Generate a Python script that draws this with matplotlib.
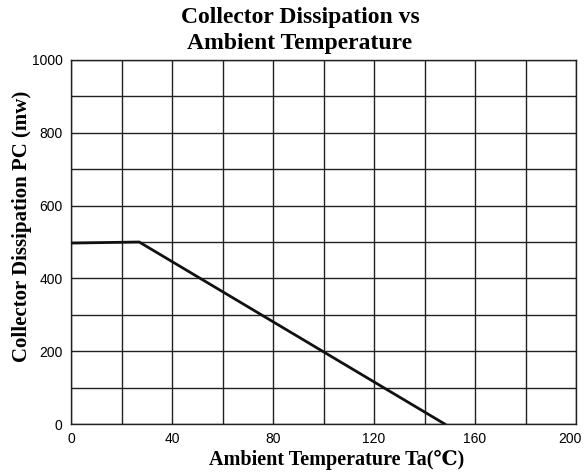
import numpy as np
import matplotlib
matplotlib.use("Agg")
import matplotlib.pyplot as plt
import matplotlib.transforms as mtransforms

# =============================================================================
# data
# =============================================================================
temp = [0, 27, 148]          # ambient temperature Ta (C)
pc = [497, 500, 0]           # collector dissipation (mW)
xgrid = list(range(0, 201, 20))
ygrid = list(range(0, 1001, 100))
xlab = [str(v) if v % 40 == 0 else "" for v in xgrid]
ylab = [str(v) if v % 200 == 0 else "" for v in ygrid]

serif = ['Liberation Serif', 'DejaVu Serif', 'Noto Sans CJK SC']

# =============================================================================
# plot
# =============================================================================
fig = plt.figure(figsize=(5.85, 4.72), dpi=100)
ax = fig.add_axes([71/585, 48/472, 505/585, 364/472])

ax.plot(temp, pc, color='#111111', lw=2.0, zorder=5)

ax.set_xlim(0, 200)
ax.set_ylim(0, 1000)
ax.set_xticks(xgrid)
ax.set_xticklabels(xlab)
ax.set_yticks(ygrid)
ax.set_yticklabels(ylab)
ax.grid(True, color='#222222', lw=1.0)
ax.tick_params(length=0, labelsize=10, pad=6)
for lbl in ax.get_xticklabels() + ax.get_yticklabels():
    lbl.set_family('Liberation Sans')
# last x label sits against the right edge
last = ax.get_xticklabels()[-1]
last.set_transform(last.get_transform() + mtransforms.ScaledTranslation(-0.06, 0, fig.dpi_scale_trans))
for s in ax.spines.values():
    s.set_color('#222222')
    s.set_linewidth(1.0)

fig.text(300/585, 1 - 18/472, "Collector Dissipation vs", ha='center', va='center',
         fontsize=17, fontweight='bold', family=serif)
fig.text(300/585, 1 - 44/472, "Ambient Temperature", ha='center', va='center',
         fontsize=17, fontweight='bold', family=serif)
fig.text(337/585, 1 - 460/472, "Ambient Temperature Ta(\u2103)", ha='center', va='center',
         fontsize=14.5, fontweight='bold', family=serif)
fig.text(22/585, 1 - 226/472, "Collector Dissipation PC (mw)", ha='center', va='center',
         rotation=90, fontsize=15, fontweight='bold', family=serif)

fig.savefig("out.png", dpi=100)
